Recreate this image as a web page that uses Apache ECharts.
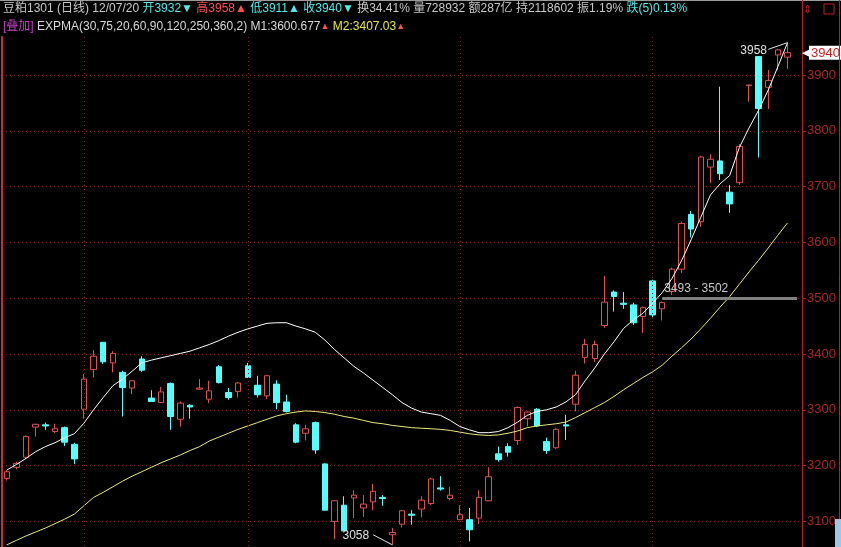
<!DOCTYPE html>
<html><head><meta charset="utf-8">
<script src="https://cdn.jsdelivr.net/npm/echarts@6/dist/echarts.min.js"></script>
<style>html,body{margin:0;padding:0;background:#000;overflow:hidden}#c{width:841px;height:547px}</style>
</head><body><div id="c"></div>
<script>
// ---- data ----
const opens  = [3177,3197,3215,3269,3273,3261,3268,3238,3301,3372,3421,3384,3367,3339,3391,3321,3313,3347,3283,3308,
                3337,3319,3377,3331,3333,3379,3344,3325,3346,3314,3273,3258,3277,3203,3100,3129,3142,3124,3135,3143,
                3076,3095,3113,3122,3132,3160,3141,3103,3103,3106,3137,3221,3234,3245,3284,3301,3243,3232,3273,3310,
                3394,3392,3451,3511,3491,3488,3467,3531,3481,3512,3552,3650,3637,3735,3746,3690,3707,3881,3933,3878,
                3936,3932];
const closes = [3189,3204,3252,3274,3271,3266,3242,3212,3355,3396,3386,3401,3340,3352,3371,3315,3332,3288,3312,3305,
                3339,3334,3349,3322,3348,3358,3327,3361,3313,3297,3242,3266,3228,3120,3137,3083,3147,3131,3154,3141,
                3080,3119,3111,3138,3176,3158,3147,3112,3085,3143,3180,3211,3224,3304,3296,3271,3227,3265,3271,3362,
                3417,3417,3493,3503,3489,3456,3483,3470,3492,3552,3634,3624,3753,3749,3723,3669,3772,3882,3840,3890,
                3945,3940];
const lows   = [3173,3193,3213,3252,3264,3258,3235,3203,3284,3358,3382,3367,3288,3328,3368,3315,3312,3264,3270,3284,
                3336,3312,3347,3318,3322,3358,3322,3319,3301,3295,3240,3245,3221,3120,3068,3083,3106,3108,3120,3128,
                3058,3089,3094,3107,3129,3155,3138,3103,3064,3095,3137,3207,3216,3237,3270,3269,3221,3230,3246,3297,
                3383,3386,3447,3476,3481,3452,3438,3464,3460,3506,3545,3609,3628,3706,3712,3653,3703,3852,3752,3839,
                3909,3911];
const highs  = [3192,3207,3254,3275,3277,3275,3270,3241,3364,3407,3421,3405,3370,3353,3396,3335,3341,3349,3315,3310,
                3355,3352,3380,3339,3350,3384,3361,3362,3353,3327,3276,3273,3279,3204,3138,3145,3156,3147,3167,3147,
                3088,3120,3120,3145,3178,3181,3162,3129,3124,3156,3197,3234,3240,3306,3297,3303,3250,3267,3291,3370,
                3427,3424,3540,3514,3511,3492,3485,3533,3494,3555,3637,3656,3755,3758,3879,3703,3776,3882,3933,3909,
                3947,3958];
const m1 = [3192,3202,3213,3225,3234,3241,3250,3257,3276,3300,3322,3343,3355,3369,3384,3389,3393,3397,3401,3405,
            3411,3417,3424,3432,3439,3445,3450,3455,3456,3456,3450,3445,3439,3425,3408,3393,3378,3366,3353,3340,
            3327,3313,3303,3296,3293,3290,3281,3270,3264,3259,3259,3261,3268,3278,3290,3297,3300,3305,3314,3327,
            3352,3375,3400,3422,3446,3461,3473,3491,3510,3535,3567,3605,3645,3685,3705,3720,3770,3805,3837,3873,
            3915,3958];
const m2 = [3058,3066,3074,3081,3088,3096,3104,3113,3128,3143,3152,3162,3172,3181,3189,3197,3205,3212,3219,3227,
            3234,3244,3251,3258,3265,3271,3277,3283,3289,3293,3296,3298,3297,3295,3292,3288,3285,3281,3277,3275,
            3272,3270,3268,3267,3266,3265,3263,3260,3257,3255,3254,3255,3258,3262,3268,3271,3273,3275,3278,3286,
            3295,3304,3313,3324,3336,3347,3358,3368,3380,3396,3411,3427,3445,3464,3484,3503,3525,3547,3568,3590,
            3613,3635];
const categories = opens.map((_, i) => String(i + 1)).concat(['']);
const yRange = { min: 3054.1, max: 3968.1, splits: 9 };
const monthStarts = [8, 25, 47, 67];
const lastClose = 3940, periodHigh = 3958, periodLow = 3058;
const zoneLabel = '3493 - 3502', zoneValue = 3500, zoneStart = 68;

const ohlc = opens.map((o, i) => [o, closes[i], lows[i], highs[i]]);
const red = '#dc5252', cyan = '#54ffff', grid = '#8c2424';
const font = '"Liberation Sans","Noto Sans CJK SC",sans-serif';

const chart = echarts.init(document.getElementById('c'), null, { renderer: 'canvas' });

const vLines = monthStarts.map(i => [
  { coord: [i, yRange.max], symbol: 'none', lineStyle: { color: grid, type: [1, 3], width: 1 }, label: { show: false } },
  { coord: [i, yRange.min], symbol: 'none' }
]);

chart.setOption({
  backgroundColor: '#000',
  animation: false,
  grid: { left: 2, right: 39, top: 37, height: 510, outerBoundsMode: 'none', containLabel: false },
  xAxis: { type: 'category', data: categories, boundaryGap: true, show: false },
  yAxis: [{
    type: 'value', position: 'right', min: yRange.min, max: yRange.max, splitNumber: yRange.splits,
    axisLine: { show: true, lineStyle: { color: '#b02424', width: 1 } },
    axisTick: { show: true, length: 4, lineStyle: { color: '#b02424' } },
    axisLabel: { color: '#a82828', fontSize: 13, fontFamily: font, margin: 5, showMaxLabel: false, showMinLabel: false,
                 formatter: v => (Math.abs(v % 100) < 0.01 ? String(Math.round(v)) : '') },
    splitLine: { show: true, showMaxLine: false, showMinLine: false, lineStyle: { color: grid, type: [1, 3], width: 1 } }
  }, {
    type: 'value', position: 'left', min: yRange.min, max: yRange.max,
    axisLine: { show: true, lineStyle: { color: '#c83030', width: 2 } },
    axisTick: { show: false }, axisLabel: { show: false }, splitLine: { show: false }
  }],
  series: [{
    type: 'candlestick', data: ohlc, barWidth: 6,
    itemStyle: { color: '#000', color0: cyan, borderColor: red, borderColor0: cyan, borderWidth: 1 },
    markLine: {
      silent: true, symbol: ['none', 'none'], animation: false,
      data: vLines.concat([
        [{ coord: [zoneStart, zoneValue], lineStyle: { color: '#808080', width: 3, type: 'solid' },
           label: { show: true, position: 'insideStartTop', formatter: zoneLabel, color: '#c8c8c8', fontSize: 12, fontFamily: font, distance: [2, 4] } },
         { coord: [categories.length - 1, zoneValue] }],
        [{ coord: [79, 3946], lineStyle: { color: '#e0e0e0', width: 1, type: 'solid' }, label: { show: false } },
         { coord: [81, periodHigh] }],
        [{ coord: [38, 3076], lineStyle: { color: '#e0e0e0', width: 1, type: 'solid' }, label: { show: false } },
         { coord: [40, periodLow] }]
      ])
    },
    markPoint: {
      silent: true, symbol: 'circle', symbolSize: 0, animation: false,
      data: [
        { coord: [78, 3944], label: { show: true, position: 'inside', formatter: String(periodHigh), color: '#e0e0e0', fontSize: 12, fontFamily: font, offset: [-5, 0] } },
        { coord: [36, 3074], label: { show: true, position: 'inside', formatter: String(periodLow), color: '#e0e0e0', fontSize: 12, fontFamily: font, offset: [2, 0] } }
      ]
    }
  }, {
    type: 'line', data: m1, symbol: 'none', lineStyle: { color: '#ffffff', width: 1 }, silent: true
  }, {
    type: 'line', data: m2, symbol: 'none', lineStyle: { color: '#eaea80', width: 1 }, silent: true,
    markLine: {
      silent: true, symbol: ['none', 'none'], animation: false,
      data: [{ yAxis: lastClose, lineStyle: { color: 'rgba(0,0,0,0)', width: 1 },
        label: { show: true, position: 'end', distance: 0, formatter: '{a|◀}{b|' + lastClose + '}',
          rich: { a: { color: '#fff', fontSize: 11, padding: [0, -1, 0, 0] },
                  b: { color: '#d02020', backgroundColor: '#fff', fontSize: 13, fontFamily: font, padding: [1, 2, 0, 2] } } } }]
    }
  }],
  graphic: [
    { type: 'rect', shape: { x: 0, y: 0, width: 841, height: 1 }, style: { fill: '#9a9a9a' }, z: 100 },
    { type: 'line', shape: { x1: 802.5, y1: 0, x2: 802.5, y2: 37 }, style: { stroke: '#b02424', lineWidth: 1 }, z: 100 },
    { type: 'line', shape: { x1: 839.5, y1: 0, x2: 839.5, y2: 547 }, style: { stroke: '#b02424', lineWidth: 1 }, z: 100 },
    { type: 'rect', shape: { x: 835, y: 519, width: 6, height: 28 }, style: { fill: '#9cc8ec' }, z: 100 },
    { type: 'text', x: 3, y: 3, z: 100, style: {
        text: '{g|豆粕1301 (日线) 12/07/20 }{c|开3932▼}{r| 高3958▲}{c| 低3911▲}{c| 收3940▼}{g| 换34.41% 量728932 额287亿 持2118602 振1.19% }{c|跌(5)0.13%}',
        rich: {
          g: { fill: '#c8c8c8', fontSize: 12, fontFamily: font },
          c: { fill: '#54e8e8', fontSize: 12, fontFamily: font },
          r: { fill: '#ff5050', fontSize: 12, fontFamily: font }
        } } },
    { type: 'text', x: 3, y: 21, z: 100, style: {
        text: '{m|[叠加]}{g| EXPMA(30,75,20,60,90,120,250,360,2) M1:3600.677}{r|▲}{y| M2:3407.03}{r|▲}',
        rich: {
          m: { fill: '#c040c0', fontSize: 12, fontFamily: font },
          g: { fill: '#d8d8d8', fontSize: 12, fontFamily: font },
          y: { fill: '#e8e840', fontSize: 12, fontFamily: font },
          r: { fill: '#ff5050', fontSize: 9, fontFamily: font }
        } } },
    { type: 'text', x: 803, y: 4, z: 100, style: { text: '⇕', fill: '#c02020', fontSize: 11 } },
    { type: 'rect', shape: { x: 824, y: 4, width: 10, height: 10 }, style: { fill: 'none', stroke: '#c02020', lineWidth: 1 }, z: 100 }
  ]
});
</script></body></html>
